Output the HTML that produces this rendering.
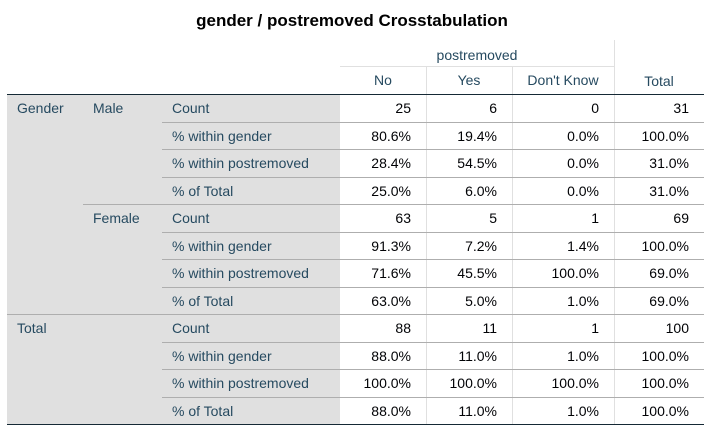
<!DOCTYPE html>
<html><head><meta charset="utf-8">
<style>
body{margin:0;width:710px;height:434px;background:#fff;position:relative;overflow:hidden;font-family:"Liberation Sans",sans-serif;}
.t{position:absolute;font-size:14px;line-height:16px;white-space:nowrap;}
.lab{color:#264a60;}
.val{color:#010205;text-align:right;}
.hl{position:absolute;height:1px;background:#aeaeae;}
.vl{position:absolute;width:1px;background:#e0e0e0;}
</style></head>
<body>
<div class="t" style="left:0;width:704px;top:11px;text-align:center;font-weight:bold;font-size:17px;line-height:20px;color:#000;">gender / postremoved Crosstabulation</div>
<div style="position:absolute;left:7px;top:95px;width:333px;height:329px;background:#e0e0e0;"></div>
<div class="t lab" style="left:340px;width:274px;top:47px;text-align:center;">postremoved</div>
<div class="hl" style="left:340px;width:274px;top:66px;background:#e0e0e0;"></div>
<div class="vl" style="left:426px;top:67px;height:357px;"></div>
<div class="vl" style="left:512px;top:67px;height:357px;"></div>
<div class="vl" style="left:614px;top:40px;height:384px;"></div>
<div class="t lab" style="left:340px;width:86px;top:72px;text-align:center;">No</div>
<div class="t lab" style="left:426px;width:86px;top:72px;text-align:center;">Yes</div>
<div class="t lab" style="left:512px;width:102px;top:72px;text-align:center;">Don't Know</div>
<div class="t lab" style="left:614px;width:90px;top:73px;text-align:center;">Total</div>
<div class="hl" style="left:7px;width:697px;top:94px;background:#152935;"></div>
<div class="hl" style="left:7px;width:697px;top:424px;background:#152935;"></div>
<script>
const groups=["Gender","","","","","","","","Total","","",""];
const subs=["Male","","","","Female","","","","","","",""];
const stats=["Count","% within gender","% within postremoved","% of Total","Count","% within gender","% within postremoved","% of Total","Count","% within gender","% within postremoved","% of Total"];
const colNo=["25","80.6%","28.4%","25.0%","63","91.3%","71.6%","63.0%","88","88.0%","100.0%","88.0%"];
const colYes=["6","19.4%","54.5%","6.0%","5","7.2%","45.5%","5.0%","11","11.0%","100.0%","11.0%"];
const colDK=["0","0.0%","0.0%","0.0%","1","1.4%","100.0%","1.0%","1","1.0%","100.0%","1.0%"];
const colTot=["31","100.0%","31.0%","31.0%","69","100.0%","69.0%","69.0%","100","100.0%","100.0%","100.0%"];
const top0=94,rh=27.5;
function txt(cls,l,w,t,s){const d=document.createElement('div');d.className='t '+cls;d.style.left=l+'px';d.style.width=w+'px';d.style.top=t+'px';d.textContent=s;document.body.appendChild(d);return d;}
for(let i=0;i<12;i++){
  const y=top0+i*rh+6;
  if(groups[i]){const g=txt('lab',17,70,y,groups[i]);
    
    }
  if(subs[i]){const s=txt('lab',93,70,y,subs[i]);
    
    }
  const st=txt('lab',172,165,y,stats[i]);
  
  
  const cols=[[colNo,340,426],[colYes,426,512],[colDK,512,614],[colTot,614,704]];
  for(const c of cols){const v=txt('val',c[1],c[2]-c[1]-15,y,c[0][i]);
    
    }
  if(i>0){const h=document.createElement('div');h.className='hl';
    const x=(i===8)?7:(i===4?83:162);
    h.style.left=x+'px';h.style.width=(704-x)+'px';h.style.top=(top0+i*rh)+'px';
    if(i===8)h.style.background='#aeaeae';
    
    
    document.body.appendChild(h);}
}
</script>
</body></html>
